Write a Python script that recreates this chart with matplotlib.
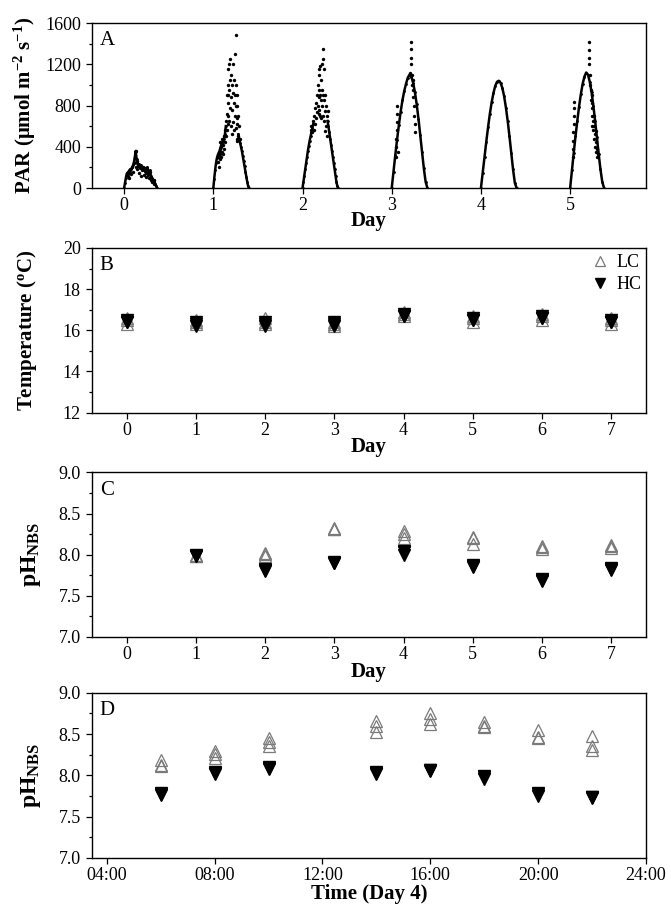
import numpy as np
import matplotlib
matplotlib.use("Agg")
import matplotlib.pyplot as plt
from matplotlib.ticker import MultipleLocator, FixedLocator

plt.rcParams['font.family'] = ['Liberation Serif', 'DejaVu Serif']
plt.rcParams['mathtext.fontset'] = 'custom'
plt.rcParams['mathtext.rm'] = 'Liberation Serif'
plt.rcParams['mathtext.bf'] = 'Liberation Serif:bold'
plt.rcParams['mathtext.it'] = 'Liberation Serif:italic'

# ---- panel A: PAR (umol m-2 s-1) against day
# day 0 (noisy, low light)
d0_t = [0.00, 0.01, 0.02, 0.03, 0.04, 0.05, 0.06, 0.07, 0.08, 0.09, 0.10, 0.11,
        0.12, 0.13, 0.14, 0.15, 0.16, 0.17, 0.18, 0.19, 0.20, 0.21, 0.22, 0.23,
        0.24, 0.25, 0.26, 0.27, 0.28, 0.29, 0.30, 0.31, 0.32, 0.33, 0.34, 0.35,
        0.36, 0.37]
d0_v = [0, 50, 100, 140, 150, 160, 170, 160, 180, 200, 220, 250, 300, 360, 280,
        240, 210, 230, 190, 220, 180, 200, 170, 190, 150, 180, 200, 160, 140,
        170, 120, 100, 80, 70, 60, 40, 20, 0]
# day 1 and day 2: rising and falling edges
d1a_t = [1.00, 1.01, 1.02, 1.03, 1.04, 1.05, 1.06, 1.07, 1.08, 1.09, 1.10,
         1.11, 1.12, 1.13, 1.14]
d1a_v = [0, 90, 170, 240, 290, 320, 340, 360, 390, 420, 440, 460, 480, 520, 600]
d1b_t = [1.28, 1.29, 1.30, 1.31, 1.32, 1.33, 1.34, 1.35, 1.36, 1.37, 1.38,
         1.39, 1.40]
d1b_v = [520, 480, 440, 400, 360, 310, 260, 210, 160, 110, 60, 20, 0]
d2a_t = [2.00, 2.01, 2.02, 2.03, 2.04, 2.05, 2.06, 2.07, 2.08, 2.09, 2.10,
         2.11, 2.12]
d2a_v = [0, 60, 120, 180, 240, 300, 360, 410, 460, 500, 540, 580, 620]
d2b_t = [2.28, 2.29, 2.30, 2.31, 2.32, 2.33, 2.34, 2.35, 2.36, 2.37, 2.38,
         2.39, 2.40]
d2b_v = [650, 600, 540, 480, 420, 360, 300, 240, 180, 120, 60, 20, 0]
# days 3-5: clean arches
d3_t = [3.00, 3.02, 3.04, 3.06, 3.08, 3.10, 3.12, 3.14, 3.16, 3.18, 3.20,
        3.22, 3.24, 3.26, 3.28, 3.30, 3.32, 3.34, 3.36, 3.38, 3.40]
d3_v = [0, 160, 320, 470, 610, 740, 850, 940, 1010, 1070, 1100, 1080, 1020,
        930, 810, 670, 510, 350, 190, 60, 0]
d4_t = [4.00, 4.02, 4.04, 4.06, 4.08, 4.10, 4.12, 4.14, 4.16, 4.18, 4.20,
        4.22, 4.24, 4.26, 4.28, 4.30, 4.32, 4.34, 4.36, 4.38, 4.40]
d4_v = [0, 150, 300, 450, 590, 720, 830, 920, 990, 1030, 1040, 1020, 970,
        890, 780, 650, 500, 340, 180, 50, 0]
d5_t = [5.00, 5.02, 5.04, 5.06, 5.08, 5.10, 5.12, 5.14, 5.16, 5.18, 5.20,
        5.22, 5.24, 5.26, 5.28, 5.30, 5.32, 5.34, 5.36, 5.38]
d5_v = [0, 170, 340, 500, 650, 790, 910, 1010, 1080, 1120, 1100, 1030, 930,
        800, 650, 490, 330, 180, 60, 0]

# scattered PAR readings (time in days, value)
sc_t = [0.04, 0.05, 0.06, 0.07, 0.08, 0.09, 0.10, 0.11, 0.12, 0.13, 0.13, 0.14,
        0.15, 0.16, 0.17, 0.18, 0.19, 0.20, 0.21, 0.22, 0.23, 0.24, 0.25, 0.26,
        0.27, 0.28, 0.29, 0.30, 0.31, 0.33, 0.34,
        1.05, 1.06, 1.06, 1.07, 1.07, 1.08, 1.08, 1.09, 1.09, 1.10, 1.10, 1.11,
        1.11, 1.12, 1.12, 1.13, 1.13, 1.14, 1.14, 1.15, 1.15, 1.15, 1.16, 1.16,
        1.16, 1.17, 1.17, 1.17, 1.18, 1.18, 1.18, 1.19, 1.19, 1.19, 1.20, 1.20,
        1.20, 1.21, 1.21, 1.21, 1.22, 1.22, 1.22, 1.23, 1.23, 1.23, 1.24, 1.24,
        1.24, 1.25, 1.25, 1.25, 1.25, 1.26, 1.26, 1.26, 1.27, 1.27, 1.27, 1.28,
        1.28, 1.29, 1.30,
        2.09, 2.10, 2.11, 2.12, 2.13, 2.13, 2.14, 2.14, 2.15, 2.15, 2.16, 2.16,
        2.17, 2.17, 2.18, 2.18, 2.18, 2.19, 2.19, 2.19, 2.20, 2.20, 2.20, 2.21,
        2.21, 2.21, 2.22, 2.22, 2.22, 2.23, 2.23, 2.23, 2.23, 2.24, 2.24, 2.24,
        2.25, 2.25, 2.25, 2.26, 2.26, 2.27, 2.27, 2.28,
        3.05, 3.05, 3.05, 3.06, 3.06, 3.06, 3.06, 3.07, 3.22, 3.22, 3.22, 3.22,
        3.23, 3.23, 3.24, 3.24, 3.25, 3.25, 3.26, 3.26, 3.24, 3.21,
        5.03, 5.03, 5.03, 5.03, 5.04, 5.04, 5.04, 5.04, 5.21, 5.21, 5.21, 5.21,
        5.22, 5.22, 5.23, 5.23, 5.24, 5.24, 5.25, 5.25, 5.26, 5.26, 5.27, 5.27,
        5.28, 5.28, 5.29, 5.29, 5.30, 5.30, 5.31, 5.25, 5.27, 5.29]
sc_v = [120, 150, 100, 180, 140, 200, 160, 240, 300, 360, 200, 260,
        180, 230, 150, 200, 120, 170, 200, 130, 190, 150, 110, 180,
        130, 100, 160, 80, 60, 80, 40,
        250, 300, 200, 380, 280, 330, 450, 300, 400, 350, 480, 420,
        330, 500, 380, 450, 560, 650, 500, 900, 720, 560, 1000, 820,
        620, 1150, 900, 700, 1200, 950, 650, 1250, 1050, 780, 1100, 880,
        600, 1000, 760, 520, 1200, 920, 640, 1050, 820, 560, 1300, 900,
        700, 1480, 1000, 800, 580, 900, 680, 480, 800, 620, 460, 700,
        500, 600, 480,
        560, 600, 540, 650, 700, 560, 780, 620, 820, 680, 900, 740,
        1000, 800, 1100, 880, 720, 1150, 950, 760, 1180, 900, 700, 1050,
        850, 680, 1200, 950, 800, 1350, 1250, 900, 700, 1150, 850, 650,
        900, 750, 550, 800, 600, 700, 500, 750,
        300, 400, 480, 560, 640, 720, 800, 350, 1420, 1350, 1260, 1200,
        1100, 1000, 950, 880, 800, 700, 620, 540, 1050, 1120,
        300, 380, 460, 540, 620, 700, 780, 830, 1420, 1340, 1260, 1200,
        1100, 1000, 950, 850, 900, 780, 700, 820, 650, 560, 600, 480,
        520, 400, 450, 350, 380, 300, 330, 600, 700, 550]

# ---- panel B: temperature, three replicates per day
days = [0, 1, 2, 3, 4, 5, 6, 7]
lc_temp = [[16.3, 16.5, 16.6], [16.3, 16.5, 16.4], [16.3, 16.6, 16.4],
           [16.2, 16.3, 16.4], [16.7, 16.9, 16.8], [16.4, 16.6, 16.7],
           [16.5, 16.8, 16.7], [16.3, 16.5, 16.6]]
hc_temp = [[16.4, 16.5, 16.4], [16.2, 16.3, 16.4], [16.2, 16.3, 16.4],
           [16.2, 16.3, 16.4], [16.7, 16.8, 16.7], [16.5, 16.6, 16.5],
           [16.6, 16.7, 16.6], [16.4, 16.5, 16.4]]

# ---- panel C: daily pH
ph_days = [1, 2, 3, 4, 5, 6, 7]
lc_ph = [[7.98, 8.00, 7.99], [7.99, 8.01, 8.02], [8.31, 8.31, 8.32],
         [8.20, 8.25, 8.29], [8.13, 8.20, 8.22], [8.07, 8.09, 8.11],
         [8.08, 8.10, 8.12]]
hc_ph = [[7.98, 7.99, 8.00], [7.80, 7.82, 7.83], [7.90, 7.90, 7.91],
         [8.00, 8.03, 8.04], [7.85, 7.86, 7.87], [7.68, 7.69, 7.70],
         [7.82, 7.83, 7.84]]

# ---- panel D: pH over day 4 (hour of day)
hours = [6, 8, 10, 14, 16, 18, 20, 22]
lc_ph4 = [[8.11, 8.12, 8.18], [8.21, 8.26, 8.30], [8.36, 8.40, 8.45],
          [8.52, 8.60, 8.66], [8.62, 8.68, 8.76], [8.58, 8.60, 8.64],
          [8.45, 8.46, 8.55], [8.31, 8.35, 8.47]]
hc_ph4 = [[7.76, 7.77, 7.78], [8.01, 8.03, 8.04], [8.07, 8.09, 8.10],
          [8.02, 8.03, 8.04], [8.05, 8.06, 8.06], [7.96, 7.98, 7.99],
          [7.75, 7.77, 7.79], [7.73, 7.74, 7.74]]
hour_ticks = [4, 8, 12, 16, 20, 24]
hour_labels = ['04:00', '08:00', '12:00', '16:00', '20:00', '24:00']

LC_EDGE = '#7a7a7a'
TICK_FS = 13
LAB_FS = 15

fig = plt.figure(figsize=(6.71, 9.07), dpi=100)
L, W = 0.1371, 0.8256
axA = fig.add_axes([L, 0.7927, W, 0.1819])
axB = fig.add_axes([L, 0.5452, W, 0.1814])
axC = fig.add_axes([L, 0.2977, W, 0.1814])
axD = fig.add_axes([L, 0.0543, W, 0.1819])


def style(ax, letter):
    ax.tick_params(axis='both', which='both', direction='out', top=False,
                   right=False, labelsize=TICK_FS)
    ax.tick_params(axis='both', which='major', length=4.5, width=0.9)
    ax.tick_params(axis='x', which='major', pad=2)
    ax.tick_params(axis='y', which='minor', length=2.5, width=0.9)
    for s in ax.spines.values():
        s.set_linewidth(1.0)
    ax.text(0.014, 0.95, letter, transform=ax.transAxes, fontsize=15,
            va='top', ha='left')


# A
for t, v in [(d0_t, d0_v), (d1a_t, d1a_v), (d1b_t, d1b_v), (d2a_t, d2a_v),
             (d2b_t, d2b_v), (d3_t, d3_v), (d4_t, d4_v), (d5_t, d5_v)]:
    axA.plot(t, v, color='black', lw=1.8, marker='.', ms=2)
axA.scatter(sc_t, sc_v, s=6, color='black', lw=0)
axA.set_xlim(-0.36, 5.85)
axA.set_ylim(0, 1600)
axA.xaxis.set_major_locator(MultipleLocator(1))
axA.yaxis.set_major_locator(MultipleLocator(400))
axA.yaxis.set_minor_locator(MultipleLocator(200))
axA.set_xlabel('Day', fontsize=LAB_FS, fontweight='bold', labelpad=-2)
axA.set_ylabel('PAR (μmol m$^{\\mathbf{-2}}$ s$^{\\mathbf{-1}}$)',
               fontsize=LAB_FS, fontweight='bold', labelpad=5)
style(axA, 'A')


def plot_reps(ax, x, lc, hc, ms=8.5):
    lc = np.array(lc)
    hc = np.array(hc)
    for r in range(lc.shape[1]):
        ax.plot(x, lc[:, r], ls='none', marker='^', ms=ms, mfc='none',
                mec=LC_EDGE, mew=0.9, label='LC' if r == 0 else None)
    for r in range(hc.shape[1]):
        ax.plot(x, hc[:, r], ls='none', marker='v', ms=ms, color='black',
                label='HC' if r == 0 else None)


# B
plot_reps(axB, days, lc_temp, hc_temp)
axB.set_xlim(-0.5, 7.5)
axB.set_ylim(12, 20)
axB.xaxis.set_major_locator(MultipleLocator(1))
axB.yaxis.set_major_locator(MultipleLocator(2))
axB.yaxis.set_minor_locator(MultipleLocator(1))
axB.set_xlabel('Day', fontsize=LAB_FS, fontweight='bold', labelpad=-1)
axB.set_ylabel('Temperature ($^{\\mathbf{o}}$C)', fontsize=LAB_FS,
               fontweight='bold', labelpad=17)
axB.legend(loc='upper right', bbox_to_anchor=(1.005, 1.005), frameon=False,
           fontsize=13, handletextpad=0.3, borderaxespad=0.0,
           labelspacing=0.25, handlelength=1.2, markerscale=0.85)
style(axB, 'B')

# C
plot_reps(axC, ph_days, lc_ph, hc_ph)
axC.set_xlim(-0.5, 7.5)
axC.set_ylim(7.0, 9.0)
axC.xaxis.set_major_locator(MultipleLocator(1))
axC.yaxis.set_major_locator(MultipleLocator(0.5))
axC.yaxis.set_minor_locator(MultipleLocator(0.25))
axC.yaxis.set_major_formatter('{x:.1f}')
axC.set_xlabel('Day', fontsize=LAB_FS, fontweight='bold', labelpad=-1)
axC.set_ylabel('pH$_{\\mathbf{NBS}}$', fontsize=LAB_FS + 2, fontweight='bold',
               labelpad=11)
style(axC, 'C')

# D
plot_reps(axD, hours, lc_ph4, hc_ph4)
axD.set_xlim(3.45, 24)
axD.set_ylim(7.0, 9.0)
axD.xaxis.set_major_locator(FixedLocator(hour_ticks))
axD.set_xticklabels(hour_labels)
axD.yaxis.set_major_locator(MultipleLocator(0.5))
axD.yaxis.set_minor_locator(MultipleLocator(0.25))
axD.yaxis.set_major_formatter('{x:.1f}')
axD.set_xlabel('Time (Day 4)', fontsize=LAB_FS, fontweight='bold', labelpad=0)
axD.set_ylabel('pH$_{\\mathbf{NBS}}$', fontsize=LAB_FS + 2, fontweight='bold',
               labelpad=11)
style(axD, 'D')

fig.savefig('out.png', dpi=100)
